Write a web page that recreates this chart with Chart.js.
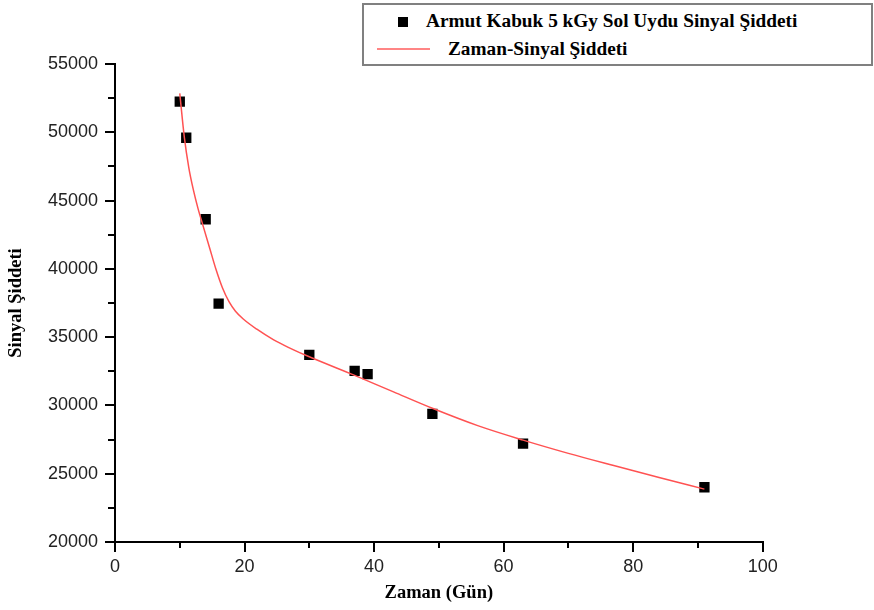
<!DOCTYPE html>
<html><head><meta charset="utf-8">
<script src="https://cdn.jsdelivr.net/npm/chart.js@4/dist/chart.umd.min.js"></script>
<style>
html,body{margin:0;padding:0;background:#fff;}
#wrap{position:relative;width:874px;height:610px;overflow:hidden;background:#fff;}
#c{position:absolute;left:0;top:0;}
#legendBox{position:absolute;left:362px;top:3px;width:511px;height:63px;border:2px solid #808080;box-sizing:border-box;background:#fff;}
.lt{position:absolute;font:bold 19.3px "Liberation Serif","Times New Roman",serif;line-height:22px;color:#000;white-space:nowrap;}
#sq{position:absolute;left:398px;top:17px;width:10px;height:10px;background:#000;}
#ln{position:absolute;left:377px;top:48px;width:53px;height:2px;background:#ff8585;}
</style>
</head><body>
<div id="wrap">
<canvas id="c" width="874" height="610"></canvas>
<div id="legendBox"></div>
<div id="sq"></div>
<div class="lt" id="t1" style="left:426px;top:10px;"></div>
<div id="ln"></div>
<div class="lt" id="t2" style="left:448px;top:38px;"></div>
</div>
<script>
const seriesNames = ['Armut Kabuk 5 kGy Sol Uydu Sinyal Şiddeti', 'Zaman-Sinyal Şiddeti'];
const xTitle = 'Zaman (Gün)';
const yTitle = 'Sinyal Şiddeti';
const days = [10, 11, 14, 16, 30, 37, 39, 49, 63, 91];
const signal = [52250, 49600, 43630, 37450, 33700, 32530, 32290, 29380, 27200, 24010];
const fitDays = [10, 10.7, 11.4, 12.1, 12.8, 13.6, 14.6, 15.6, 16.6, 17.6, 18.6, 19.8, 21.9, 24.5, 27, 30, 37, 43, 49, 56, 63, 70, 77, 84, 91];
const fitSignal = [52850, 49650, 47400, 45780, 44450, 43150, 41550, 39950, 38600, 37600, 36900, 36330, 35580, 34800, 34200, 33560, 32200, 30990, 29790, 28520, 27460, 26490, 25595, 24720, 23870];
const xTicks = [0, 20, 40, 60, 80, 100];
const yTicks = [20000, 25000, 30000, 35000, 40000, 45000, 50000, 55000];
const xMinor = [10, 30, 50, 70, 90];
const yMinor = [22500, 27500, 32500, 37500, 42500, 47500, 52500];

document.getElementById('t1').textContent = seriesNames[0];
document.getElementById('t2').textContent = seriesNames[1];

const minorTicks = {
  id: 'minorTicks',
  afterDraw(chart) {
    const {ctx, chartArea: a, scales: {x, y}} = chart;
    ctx.save();
    ctx.strokeStyle = '#000';
    ctx.lineWidth = 2;
    ctx.beginPath();
    yMinor.forEach(v => { const p = Math.round(y.getPixelForValue(v)); ctx.moveTo(a.left - 7, p); ctx.lineTo(a.left, p); });
    xMinor.forEach(v => { const p = Math.round(x.getPixelForValue(v)); ctx.moveTo(p, a.bottom); ctx.lineTo(p, a.bottom + 6); });
    ctx.stroke();
    ctx.restore();
  }
};

const tickFont = {family: '"Liberation Sans", Arial, sans-serif', size: 18};
const titleFont = {family: '"Liberation Serif", "Times New Roman", serif', size: 18.5, weight: 'bold'};

new Chart(document.getElementById('c'), {
  type: 'scatter',
  data: {
    datasets: [
      {
        label: seriesNames[1],
        data: fitDays.map((d, i) => ({x: d, y: fitSignal[i]})),
        showLine: true,
        pointRadius: 0,
        borderColor: '#ff5252',
        borderWidth: 1.5,
        cubicInterpolationMode: 'monotone',
        fill: false,
        order: 0
      },
      {
        label: seriesNames[0],
        data: days.map((d, i) => ({x: d, y: signal[i]})),
        pointStyle: 'rect',
        pointRadius: 7.3,
        backgroundColor: '#000',
        borderColor: '#000',
        borderWidth: 0,
        order: 1
      }
    ]
  },
  options: {
    responsive: false,
    animation: false,
    devicePixelRatio: 1,
    layout: {padding: {top: 64, right: 111.3, bottom: 0, left: 0}},
    plugins: {legend: {display: false}, tooltip: {enabled: false}},
    scales: {
      x: {
        type: 'linear', min: 0, max: 100,
        afterBuildTicks: s => { s.ticks = xTicks.map(v => ({value: v})); },
        afterFit: s => { s.height = 68; },
        ticks: {color: '#222', font: tickFont, padding: 4, maxRotation: 0, callback: v => String(v)},
        grid: {drawOnChartArea: false, drawTicks: true, tickLength: 10, color: '#000', lineWidth: 2},
        border: {display: true, color: '#000', width: 2},
        title: {display: true, text: xTitle, color: '#000', font: titleFont, padding: {top: 0, bottom: 6}}
      },
      y: {
        type: 'linear', min: 20000, max: 55000,
        afterBuildTicks: s => { s.ticks = yTicks.map(v => ({value: v})); },
        afterFit: s => { s.width = 115; },
        ticks: {color: '#222', font: tickFont, padding: 7, callback: v => String(v)},
        grid: {drawOnChartArea: false, drawTicks: true, tickLength: 10, color: '#000', lineWidth: 2},
        border: {display: true, color: '#000', width: 2},
        title: {display: true, text: yTitle, color: '#000', font: titleFont, padding: {top: 5.5, bottom: 0}}
      }
    }
  },
  plugins: [minorTicks]
});
</script>
</body></html>
